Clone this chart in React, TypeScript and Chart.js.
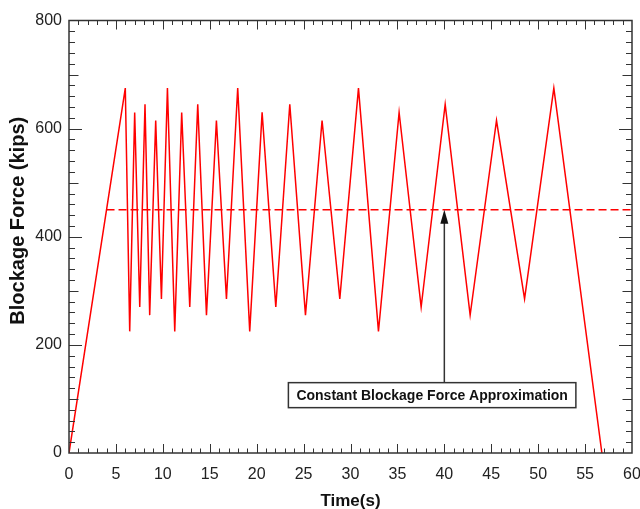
import React, { useEffect, useRef } from "react";
import { Chart, registerables } from "chart.js";

Chart.register(...registerables);

// ---- data ----
const timeS = [
  0, 6.0, 6.47, 7.0, 7.54, 8.1, 8.6, 9.24, 9.85, 10.49, 11.27, 12.01, 12.87, 13.72,
  14.65, 15.71, 16.78, 17.98, 19.26, 20.58, 22.04, 23.53, 25.2, 26.97, 28.86, 30.85,
  32.98, 35.18, 37.53, 40.09, 42.75, 45.56, 48.55, 51.67, 56.79,
];
const forceKips = [
  0, 675, 225, 630, 270, 645, 255, 615, 285, 675, 225, 630, 270, 645,
  255, 615, 285, 675, 225, 630, 270, 645, 255, 615, 285, 675,
  225, 630, 270, 645, 255, 615, 285, 675, 0,
];
const approxTime = [4, 60];
const approxForce = [450, 450];

const annotationText = "Constant Blockage Force Approximation";
const arrowTime = 40;
const arrowTipForce = 450;
const labelTime = 38.7;
const labelForce = 107;

const xTitle = "Time(s)";
const yTitle = "Blockage Force (kips)";

const X_MIN = 0, X_MAX = 60, X_STEP = 5;
const Y_MIN = 0, Y_MAX = 800, Y_STEP = 200;

const FONT = "'Liberation Sans', Arial, Helvetica, sans-serif";

const framePlugin = {
  id: "frameTicks",
  afterDatasetsDraw(chart: any) {
    const { ctx, chartArea: a } = chart;
    const x = chart.scales.x;
    const y = chart.scales.y;
    ctx.save();
    // inward ticks on all four sides
    ctx.strokeStyle = "#333";
    ctx.lineWidth = 1;
    ctx.beginPath();
    for (let t = X_MIN + 1; t < X_MAX; t++) {
      const px = Math.round(x.getPixelForValue(t)) + 0.5;
      const len = t % 5 === 0 ? 9 : 4.5;
      ctx.moveTo(px, a.bottom);
      ctx.lineTo(px, a.bottom - len);
      ctx.moveTo(px, a.top);
      ctx.lineTo(px, a.top + len);
    }
    for (let v = Y_MIN + 20; v < Y_MAX; v += 20) {
      const py = Math.round(y.getPixelForValue(v)) + 0.5;
      const len = v % 200 === 0 ? 13 : v % 100 === 0 ? 9.5 : 6;
      ctx.moveTo(a.left, py);
      ctx.lineTo(a.left + len, py);
      ctx.moveTo(a.right, py);
      ctx.lineTo(a.right - len, py);
    }
    ctx.stroke();
    ctx.lineWidth = 1.5;
    ctx.strokeRect(a.left, a.top, a.right - a.left, a.bottom - a.top);

    // annotation box + arrow
    ctx.font = `bold 14px ${FONT}`;
    const tw = ctx.measureText(annotationText).width;
    const bw = tw + 16;
    const bh = 25;
    const cx = x.getPixelForValue(labelTime);
    const cy = y.getPixelForValue(labelForce);
    const bx = cx - bw / 2;
    const by = cy - bh / 2;
    ctx.fillStyle = "#fff";
    ctx.fillRect(bx, by, bw, bh);
    ctx.strokeStyle = "#333";
    ctx.lineWidth = 1.5;
    ctx.strokeRect(bx, by, bw, bh);
    ctx.fillStyle = "#111";
    ctx.textAlign = "center";
    ctx.textBaseline = "middle";
    ctx.fillText(annotationText, cx, cy + 1);

    const ax = x.getPixelForValue(arrowTime);
    const tipY = y.getPixelForValue(arrowTipForce);
    const headLen = 14;
    const headHalf = 4;
    ctx.beginPath();
    ctx.lineWidth = 1.5;
    ctx.moveTo(ax, by);
    ctx.lineTo(ax, tipY + headLen - 1);
    ctx.stroke();
    ctx.beginPath();
    ctx.moveTo(ax, tipY);
    ctx.lineTo(ax - headHalf, tipY + headLen);
    ctx.lineTo(ax + headHalf, tipY + headLen);
    ctx.closePath();
    ctx.fillStyle = "#111";
    ctx.fill();

    // y axis title
    ctx.save();
    ctx.translate(18.5, (a.top + a.bottom) / 2 - 16);
    ctx.rotate(-Math.PI / 2);
    ctx.font = `bold 20px ${FONT}`;
    ctx.fillStyle = "#111";
    ctx.textAlign = "center";
    ctx.textBaseline = "middle";
    ctx.fillText(yTitle, 0, 0);
    ctx.restore();

    ctx.restore();
  },
};

export default function App() {
  const ref = useRef<HTMLCanvasElement | null>(null);

  useEffect(() => {
    if (!ref.current) return;
    const chart = new Chart(ref.current, {
      type: "line",
      data: {
        datasets: [
          {
            data: timeS.map((t, i) => ({ x: t, y: forceKips[i] })),
            borderColor: "#ff0000",
            borderWidth: 1.5,
            pointRadius: 0,
            tension: 0,
            fill: false,
          },
          {
            data: approxTime.map((t, i) => ({ x: t, y: approxForce[i] })),
            borderColor: "#ff0000",
            borderWidth: 1.5,
            borderDash: [8, 4],
            pointRadius: 0,
            tension: 0,
            fill: false,
          },
        ],
      },
      options: {
        animation: false,
        responsive: false,
        layout: { padding: { top: 20.5, right: 8, left: 0, bottom: 0 } },
        plugins: {
          legend: { display: false },
          tooltip: { enabled: false },
          title: { display: false },
        },
        scales: {
          x: {
            type: "linear",
            min: X_MIN,
            max: X_MAX,
            ticks: {
              stepSize: X_STEP,
              padding: 12,
              color: "#222",
              font: { family: FONT, size: 16 },
            },
            grid: { display: false, drawTicks: false },
            border: { display: false },
            title: {
              display: true,
              text: xTitle,
              color: "#111",
              font: { family: FONT, size: 17, weight: "bold" },
              padding: { top: 0, bottom: -3 },
            },
            afterFit: (s: any) => {
              s.height = 56;
              s.paddingRight = 0;
              s.paddingLeft = 0;
            },
          },
          y: {
            type: "linear",
            min: Y_MIN,
            max: Y_MAX,
            ticks: {
              stepSize: Y_STEP,
              padding: 7,
              color: "#222",
              font: { family: FONT, size: 16 },
            },
            grid: { display: false, drawTicks: false },
            border: { display: false },
            title: { display: false },
            afterFit: (s: any) => {
              s.width = 69;
            },
          },
        },
      },
      plugins: [framePlugin],
    });
    return () => chart.destroy();
  }, []);

  return (
    <div style={{ position: "absolute", left: 0, top: 0, width: 640, height: 509, background: "#fff" }}>
      <canvas ref={ref} width={640} height={509} style={{ display: "block" }} />
    </div>
  );
}
